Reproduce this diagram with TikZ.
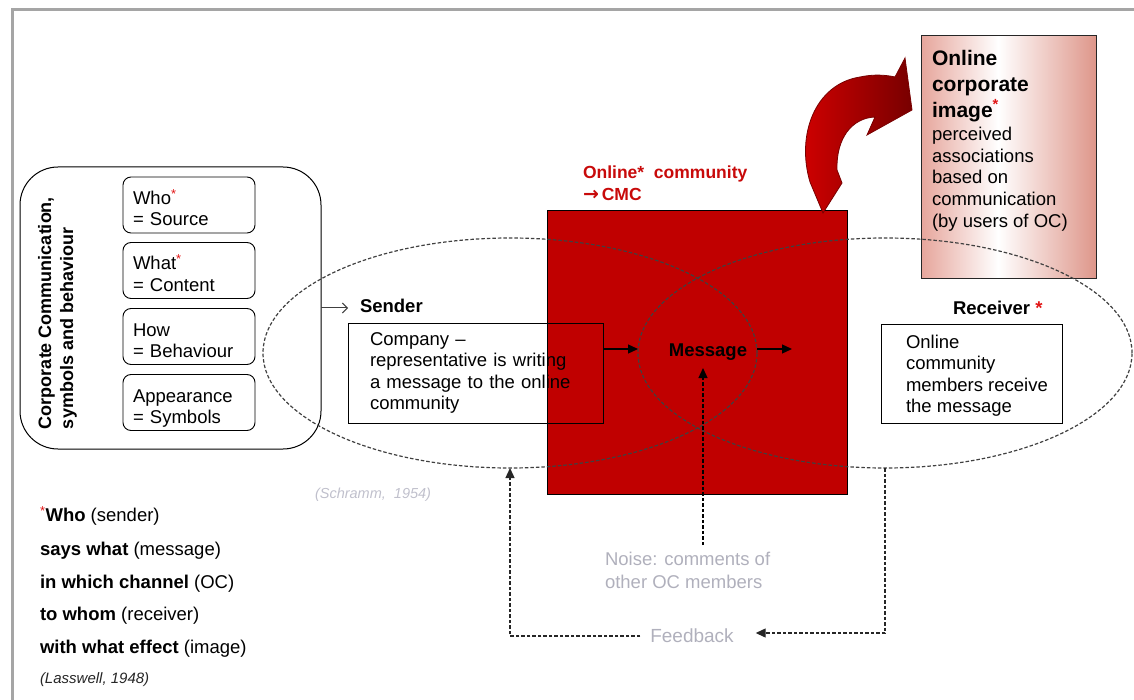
\documentclass[tikz,border=0pt]{standalone}
\usepackage{fontspec}
\setmainfont{Liberation Sans}
\newfontfamily\arrowfont{DejaVu Sans}
\usetikzlibrary{arrows.meta,shapes.geometric}

\definecolor{ocred}{RGB}{192,0,0}
\definecolor{starred}{RGB}{225,20,20}
\definecolor{labelred}{RGB}{200,10,10}
\definecolor{framegray}{RGB}{165,165,165}
\definecolor{notegray}{RGB}{176,176,188}
\definecolor{citegray}{RGB}{192,192,204}
\definecolor{pinkL}{RGB}{230,165,155}
\definecolor{pinkR}{RGB}{222,150,138}
\definecolor{arrowlight}{RGB}{212,0,0}
\definecolor{arrowdark}{RGB}{120,0,0}

% pink-white-pink band used for the corporate image panel
\pgfdeclarehorizontalshading{imageshade}{100bp}{color(0bp)=(pinkL); color(25bp)=(pinkL); color(47bp)=(white); color(75bp)=(pinkR); color(100bp)=(pinkR)}

\newcommand\redstar{\textsuperscript{\textcolor{starred}{*}}}

\begin{document}
\begin{tikzpicture}[x=1pt,y=-1pt,
  every node/.style={inner sep=0pt, outer sep=0pt},
  fs/.style={font=\fontsize{18.5}{21.5}\selectfont},
  bfs/.style={font=\bfseries\fontsize{18.5}{21.5}\selectfont},
  txt/.style={fs, anchor=north west, align=left},
  aspect/.style={draw, rounded corners=8pt, line width=0.9pt, minimum width=132pt,
    minimum height=56pt, text width=112pt, inner xsep=10pt, align=left, fs,
    text height=14pt, text depth=15pt},
  plainbox/.style={draw, line width=0.9pt},
  ring/.style={draw=black!75, ellipse, dash pattern=on 3.5pt off 2pt, line width=1.2pt,
    minimum width=494pt, minimum height=230pt},
  flow/.style={line width=1.3pt, -{Triangle[length=10pt,width=9pt]}},
  dflow/.style={flow, dash pattern=on 3.5pt off 2pt, draw=black!85},
  graytext/.style={txt, text=notegray, font=\fontsize{18.5}{23}\selectfont},
  listline/.style={anchor=base west, fs},
]
\useasboundingbox (0,0) rectangle (1134,700);

% page frame (top and left rules)
\draw[framegray, line width=3pt] (12,700) -- (12,9.5) -- (1134,9.5);

% corporate communication panel
\node[draw, line width=1pt, rounded corners=38pt, minimum width=301pt, minimum height=282pt] (cc) at (170.5,308) {};
\node[rotate=90, anchor=north west, align=left, font=\bfseries\fontsize{18}{22}\selectfont] (cclabel) at (38,429)
  {Corporate Communication,\\symbols and behaviour};
\node[aspect] (who) at (189,205) {Who\redstar\\= Source};
\node[aspect] (what) at (189,270.5) {What\redstar\\= Content};
\node[aspect] (how) at (189,336.5) {How\\= Behaviour};
\node[aspect] (look) at (189,402.5) {Appearance\\= Symbols};

% online community (channel)
\node[draw, line width=1pt, fill=ocred, minimum width=300pt, minimum height=283pt] (oc) at (697,352.5) {};
\node[txt, font=\bfseries\fontsize{17.5}{21.5}\selectfont, text=labelred] (oclabel) at (583,166)
  {Online*\ \ community\\{\arrowfont\bfseries\fontsize{19}{21.5}\selectfont →}\,CMC};

% corporate image panel
\node[draw=black!85, line width=1pt, shade, shading=imageshade, minimum width=175pt, minimum height=243pt] (img) at (1008.5,157.5) {};
\node[txt, font=\bfseries\fontsize{21}{26}\selectfont] (imgtitle) at (932,50)
  {Online\\corporate\\image\redstar};
\node[txt, font=\fontsize{18.5}{21.7}\selectfont] (imgbody) at (932,127)
  {perceived\\associations\\based on\\communication\\(by users of OC)};

% curved block arrow from the community to the image
\draw[draw=arrowdark, line width=0.8pt, left color=arrowlight, right color=arrowdark]
  (823,213) -- (810,182)
  .. controls (796,135) and (815,84) .. (860,77)
  .. controls (874,74) and (886,75) .. (895,77)
  -- (905,58) -- (912,110) -- (867,135) -- (875,117)
  .. controls (852,118) and (836,138) .. (837,170)
  -- (842,183) -- cycle;

% Schramm's overlapping fields of experience
\node[ring] (ellS) at (510,353) {};
\node[ring] (ellR) at (885,353) {};

% sender
\node[anchor=base west, bfs] (sendlbl) at (360,312.6) {Sender};
\draw[black!75, line width=1pt, -{Straight Barb[length=5pt,width=10pt]}, shorten >=12pt] (cc.east) -- (sendlbl.west |- cc.east);
\node[plainbox, minimum width=255pt, minimum height=100pt, text width=211pt, inner xsep=22pt, align=left, fs] (sbox) at (475.5,373)
  {Company –\\representative is writing\\a message to the online\\community};

% message in the overlap
\node[bfs] (msg) at (708,352) {Message};
\coordinate (lensL) at (638,349);
\coordinate (lensR) at (757,349);
\coordinate (msgout) at (792,349);
\draw[flow] (sbox.east |- lensL) -- (lensL);
\draw[flow] (lensR) -- (msgout);

% receiver
\node[anchor=base west, bfs] (recvlbl) at (953,314.6) {Receiver \textcolor{starred}{*}};
\node[plainbox, minimum width=181pt, minimum height=99pt] (rbox) at (971.5,373.5) {};
\node[txt, font=\fontsize{18.5}{21.3}\selectfont] (rtxt) at (906,335)
  {Online\\community\\members receive\\the message};

% noise
\node[graytext] (noise) at (605,552) {Noise: comments of\\other OC members};
\coordinate (noisefoot) at (703,545);
\coordinate (noisetip) at (703,368);
\draw[dflow, draw=black] (noisefoot) -- (noisetip);

% feedback loop
\node[font=\fontsize{19}{22}\selectfont, text=notegray, inner xsep=10pt] (fb) at (692,636) {Feedback};
\draw[dflow] (ellR.south) |- ([xshift=12pt,yshift=3pt]fb.east);
\draw[dflow] (fb.west) -| (ellS.south);

% citations
\node[anchor=base west, font=\itshape\fontsize{14.5}{17}\selectfont, text=citegray] (schramm) at (315,498) {(Schramm,\ \ 1954)};

% Lasswell formula
\node[listline] (l1) at (40,521.6) {\redstar\textbf{Who} (sender)};
\node[listline] (l2) at (40,555.6) {\textbf{says what} (message)};
\node[listline] (l3) at (40,588.6) {\textbf{in which channel} (OC)};
\node[listline] (l4) at (40,620.6) {\textbf{to whom} (receiver)};
\node[listline] (l5) at (40,653.6) {\textbf{with what effect} (image)};
\node[anchor=base west, font=\itshape\fontsize{15}{18}\selectfont, text=black!85] (lasswell) at (40,683) {(Lasswell, 1948)};
\end{tikzpicture}
\end{document}
